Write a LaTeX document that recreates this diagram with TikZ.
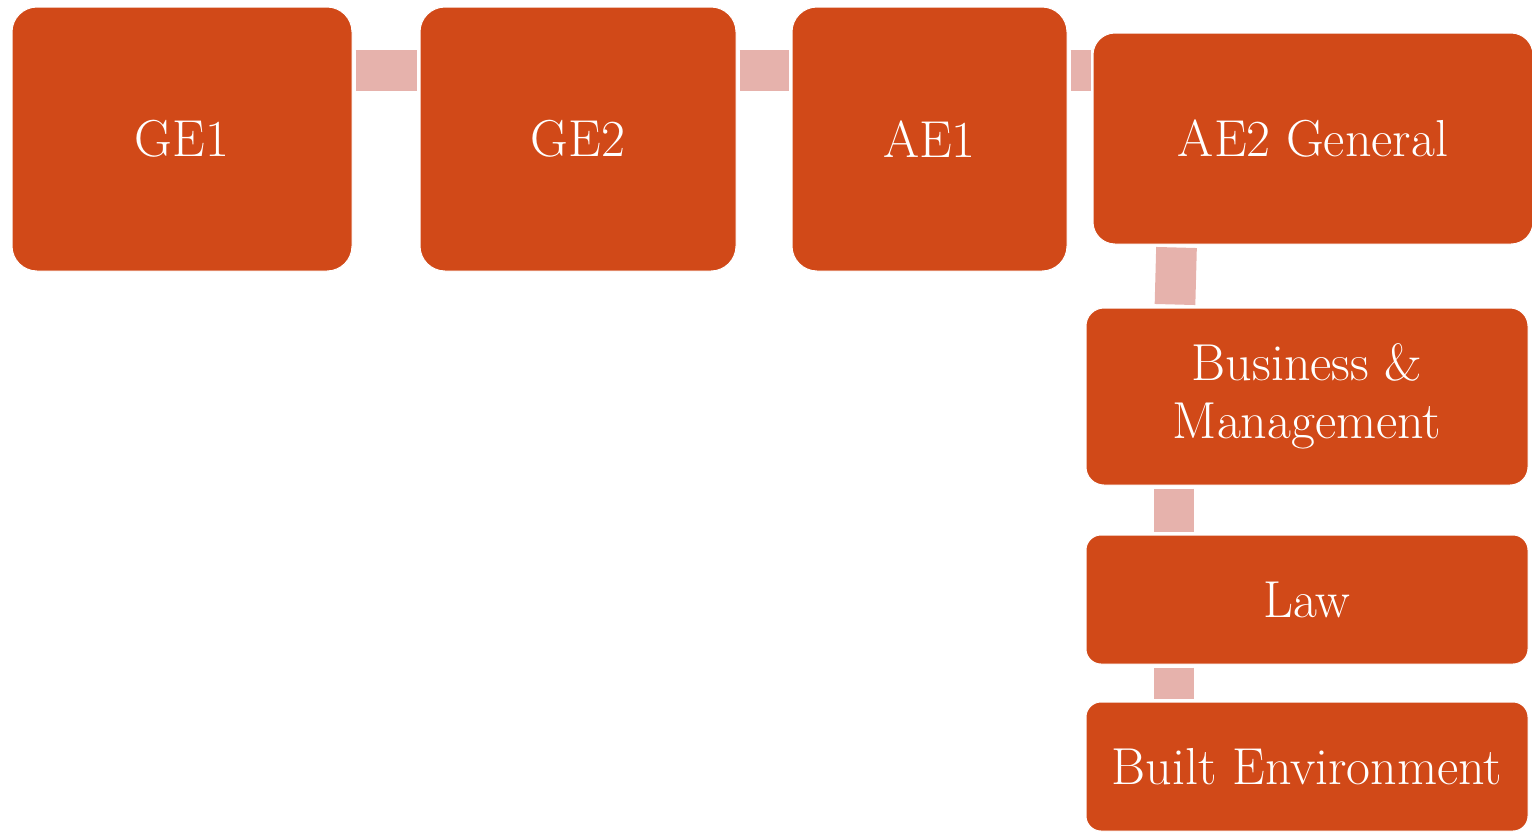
\documentclass[tikz,border=0pt]{standalone}
\usetikzlibrary{calc}
\definecolor{boxorange}{RGB}{209,73,24}
\definecolor{connpink}{RGB}{230,178,172}
\tikzset{
  box/.style={rectangle, fill=boxorange, draw=white, line width=0.75pt, text=white,
    inner sep=0pt, align=center, font=\fontsize{39}{44}\selectfont},
  conn/.style={draw=connpink, line width=30.5pt},
}
\begin{document}
\begin{tikzpicture}[x=0.75pt, y=-0.75pt]
\useasboundingbox (0,0) rectangle (1532,832);
\clip (0,0) rectangle (1532,832);
% boxes
\node[box, minimum width=340*0.75pt, minimum height=264*0.75pt, rounded corners=25*0.75pt] (ge1) at (182,139) {GE1};
\node[box, minimum width=316*0.75pt, minimum height=264*0.75pt, rounded corners=25*0.75pt] (ge2) at (578,139) {GE2};
\node[box, minimum width=275*0.75pt, minimum height=264*0.75pt, rounded corners=25*0.75pt] (ae1) at (929.5,139) {AE1};
\node[box, minimum width=440*0.75pt, minimum height=211*0.75pt, rounded corners=22*0.75pt] (ae2) at (1313,138.5) {AE2 General};
\node[box, minimum width=442*0.75pt, minimum height=177*0.75pt, rounded corners=18*0.75pt] (bus) at (1307,396.5) {Business \&\\Management};
\node[box, minimum width=442*0.75pt, minimum height=129*0.75pt, rounded corners=15*0.75pt] (law) at (1307,599.5) {Law};
\node[box, minimum width=442*0.75pt, minimum height=129*0.75pt, rounded corners=15*0.75pt] (built) at (1307,766.5) {Built Environment};
% horizontal connectors
\draw[conn] ([shift={(3,64)}]ge1.north east) -- ([shift={(-3,64)}]ge2.north west);
\draw[conn] ([shift={(3,64)}]ge2.north east) -- ([shift={(-3,64)}]ae1.north west);
\coordinate (c3) at ([shift={(3,64)}]ae1.north east);
\draw[conn] (c3) -- ([shift={(-2,0)}]c3 -| ae2.west);
% vertical connectors
\draw[conn] ([shift={(84,3)}]ae2.south west) -- ([shift={(89.5,-3)}]bus.north west);
\draw[conn] ([shift={(88.5,3)}]bus.south west) -- ([shift={(88.5,-3)}]law.north west);
\draw[conn] ([shift={(88.5,3)}]law.south west) -- ([shift={(88.5,-3)}]built.north west);
\end{tikzpicture}
\end{document}
